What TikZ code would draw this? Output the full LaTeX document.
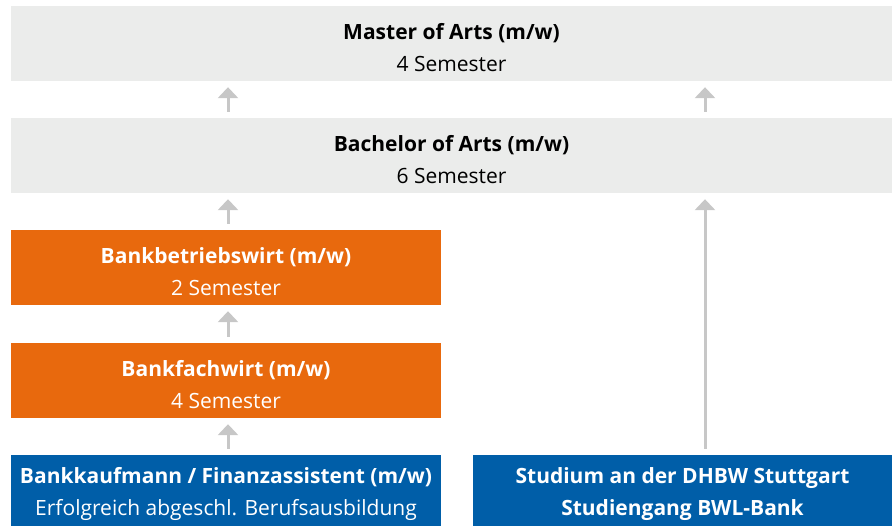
\documentclass[tikz,border=0pt]{standalone}
\usepackage{fontspec}
\setmainfont{Open Sans}
\usepackage{tikz}
\usetikzlibrary{arrows.meta}
\definecolor{ggrey}{rgb}{0.92,0.925,0.92}
\definecolor{oorange}{rgb}{0.91,0.41,0.05}
\definecolor{bblue}{rgb}{0.0,0.37,0.66}
\definecolor{agrey}{rgb}{0.78,0.78,0.78}
\tikzset{
  box/.style={rectangle,inner sep=0pt,align=center,font=\fontsize{21}{32}\selectfont},
  greybox/.style={box,fill=ggrey,text=black,minimum width=881pt,minimum height=75pt},
  orangebox/.style={box,fill=oorange,text=white,minimum width=430pt,minimum height=75pt},
  bluebox/.style={box,fill=bblue,text=white,minimum height=71pt},
  up/.style={draw=agrey,line width=3pt,-{Triangle[width=20pt,length=11pt]},shorten <=6pt,shorten >=6pt}
}
\newcommand{\lift}{\rule{0pt}{24pt}}
\begin{document}
\begin{tikzpicture}[x=1pt,y=-1pt]
\useasboundingbox (0,0) rectangle (892,526);

\node[greybox] (master) at (451.5,43.5) {\lift\textbf{Master of Arts (m/w)}\\4 Semester};
\node[greybox] (bachelor) at (451.5,155.5) {\lift\textbf{Bachelor of Arts (m/w)}\\6 Semester};
\node[orangebox] (bbw) at (226,267.5) {\lift\textbf{Bankbetriebswirt (m/w)}\\2 Semester};
\node[orangebox] (bfw) at (226,380.5) {\lift\textbf{Bankfachwirt (m/w)}\\4 Semester};
\node[bluebox,minimum width=430pt] (bkm) at (226,490.5) {\lift\textbf{Bankkaufmann / Finanzassistent (m/w)}\\Erfolgreich abgeschl. Berufsausbildung};
\node[bluebox,minimum width=419pt] (dhbw) at (682.5,490.5) {\lift\textbf{Studium an der DHBW Stuttgart}\\\textbf{Studiengang BWL-Bank}};

% Pfeile
\draw[up] ([xshift=2pt]bkm.north) -- ([xshift=2pt]bfw.south);
\draw[up] ([xshift=2pt]bfw.north) -- ([xshift=2pt]bbw.south);
\draw[up] ([xshift=2pt]bbw.north) -- ([xshift=2pt]bbw.north |- bachelor.south);
\draw[up] ([xshift=22.5pt]dhbw.north) -- ([xshift=22.5pt]dhbw.north |- bachelor.south);
\draw[up] ([xshift=2pt]bbw.north |- bachelor.north) -- ([xshift=2pt]bbw.north |- master.south);
\draw[up] ([xshift=22.5pt]dhbw.north |- bachelor.north) -- ([xshift=22.5pt]dhbw.north |- master.south);

\end{tikzpicture}
\end{document}
